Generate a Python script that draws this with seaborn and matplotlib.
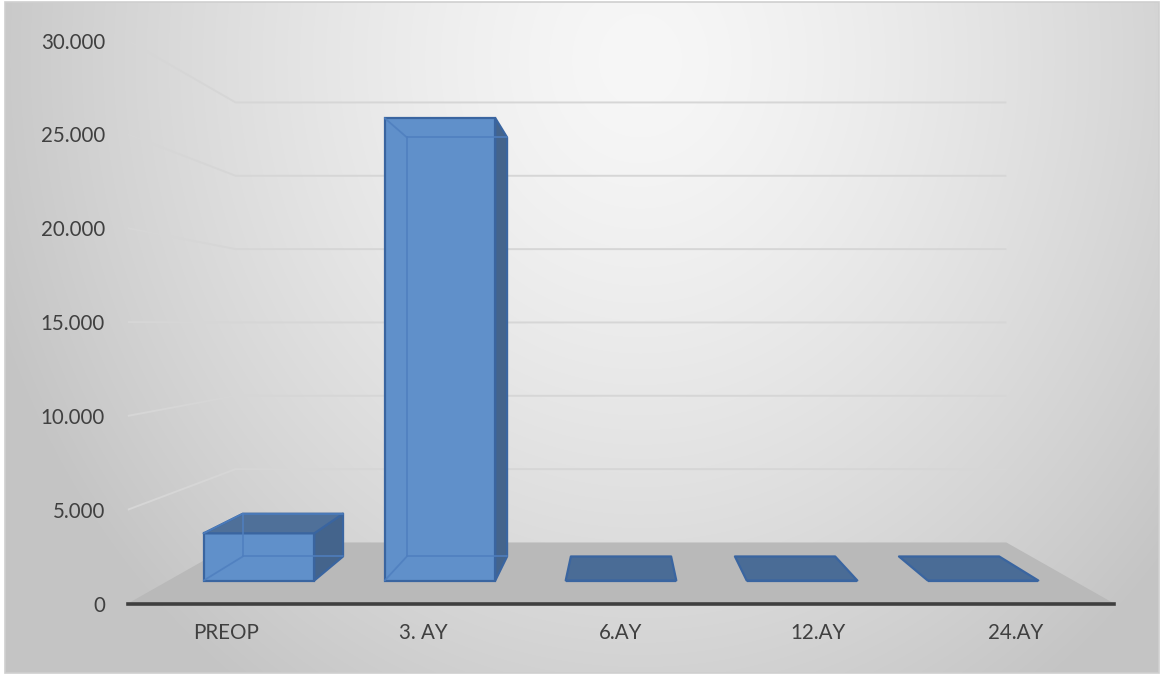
import numpy as np
import matplotlib
matplotlib.use("Agg")
import matplotlib.pyplot as plt
from matplotlib.patches import Polygon, Rectangle
import pandas as pd
import seaborn as sns

# ---- data -------------------------------------------------------------
categories = ["PREOP", "3. AY", "6.AY", "12.AY", "24.AY"]
values = [2740, 26850, 0, 0, 0]
y_ticks = [0, 5000, 10000, 15000, 20000, 25000, 30000]
y_tick_labels = ["0", "5.000", "10.000", "15.000", "20.000", "25.000", "30.000"]

# ---- figure / perspective geometry -----------------------------------
W_PX, H_PX, DPI = 1167, 679, 100
CAT_PX = 181.0       # pixels per category on the bar front plane
UNIT_PX = 0.017221   # pixels per value unit on the bar front plane
VX_PX = 621.0        # horizontal position of the vanishing point
BASE_PX = 580.5      # pixel row of value 0 on the bar front plane
EYE = 14895.0        # value level at eye height (horizon)
CENTER = 2.0         # category coordinate under the eye
R_FRONT, R_BAR_BACK, R_BACK = 1.0898, 0.9063, 0.8517   # depth scale factors
HALF = 0.3055        # half bar width (category units)

FRONT = "#6090ca"
SIDE = "#44648c"
TOP = "#4f7099"
FLAT = "#4a6c96"
EDGE = "#3a65a0"
HIDDEN = "#4f7fbf"
TEXT = "#404040"


def proj(x, y, r):
    """Project a point (category x, value y, depth factor r) onto the bar front plane."""
    return CENTER + (x - CENTER) * r, EYE + (y - EYE) * r


sns.set_theme(style="white")
plt.rcParams["font.family"] = ["Lato", "DejaVu Sans"]

fig = plt.figure(figsize=(W_PX / DPI, H_PX / DPI), dpi=DPI)
fig.patch.set_facecolor("white")

# ---- chart area background (soft radial gradient) ---------------------
bg = fig.add_axes([0, 0, 1, 1], zorder=0)
bg.set_xlim(0, W_PX)
bg.set_ylim(H_PX, 0)
bg.axis("off")
x0, x1, y0, y1 = 5, 1159, 2, 673
gx, gy = np.meshgrid(np.arange(x0, x1), np.arange(y0, y1))
d = np.sqrt(((gx - 640) / 620.0) ** 2 + ((gy - 60) / 700.0) ** 2)
shade = (247 - 44 * np.clip(d, 0, 1.1) ** 1.4) / 255.0
img = np.dstack([shade, shade, shade])
bg.imshow(img, extent=(x0, x1, y1, y0), aspect="auto", interpolation="bilinear")
bg.add_patch(Rectangle((x0, y0), x1 - x0, y1 - y0, fill=False,
                       edgecolor="#cfcfcf", linewidth=1.2))
bg.set_xlim(0, W_PX)
bg.set_ylim(H_PX, 0)

# ---- main axes mapped onto the bar front plane ------------------------
xlim = (proj(-0.5, 0, R_FRONT)[0], proj(len(categories) - 0.5, 0, R_FRONT)[0])
ylim = (proj(0, 0, R_FRONT)[1], (BASE_PX - 20) / UNIT_PX)
left_px = VX_PX + (xlim[0] - CENTER) * CAT_PX
right_px = VX_PX + (xlim[1] - CENTER) * CAT_PX
bottom_px = BASE_PX - ylim[0] * UNIT_PX
top_px = BASE_PX - ylim[1] * UNIT_PX
ax = fig.add_axes([left_px / W_PX, 1 - bottom_px / H_PX,
                   (right_px - left_px) / W_PX, (bottom_px - top_px) / H_PX],
                  zorder=1)
ax.set_facecolor("none")

# floor
n = len(categories)
floor = [proj(-0.5, 0, R_FRONT), proj(n - 0.5, 0, R_FRONT),
         proj(n - 0.5, 0, R_BACK), proj(-0.5, 0, R_BACK)]
ax.add_patch(Polygon(floor, closed=True, facecolor="#b9b9b9",
                     edgecolor="none", zorder=1, clip_on=False))

# gridlines on the side wall and back wall
for yv in y_ticks[1:]:
    a = proj(-0.5, yv, R_FRONT)
    b = proj(-0.5, yv, R_BACK)
    c = proj(n - 0.5, yv, R_BACK)
    ax.plot([a[0], b[0], c[0]], [a[1], b[1], c[1]], color="#d6d6d6",
            lw=1.4, zorder=1, clip_on=False, solid_capstyle="butt")

# bar front faces
df = pd.DataFrame({"period": categories, "value": values})
sns.barplot(data=df, x="period", y="value", order=categories, color=FRONT,
            saturation=1, width=2 * HALF, edgecolor=EDGE, linewidth=1.6,
            zorder=4, ax=ax)

# side, top and hidden edges of each bar
for i, v in enumerate(values):
    xl, xr = i - HALF, i + HALF
    if v > 0 and xr < CENTER:
        side = [proj(xr, 0, 1), proj(xr, v, 1), proj(xr, v, R_BAR_BACK), proj(xr, 0, R_BAR_BACK)]
        ax.add_patch(Polygon(side, closed=True, facecolor=SIDE, edgecolor=EDGE,
                             linewidth=1.6, zorder=4, joinstyle="round"))
    if v > 0 and xl > CENTER:
        side = [proj(xl, 0, 1), proj(xl, v, 1), proj(xl, v, R_BAR_BACK), proj(xl, 0, R_BAR_BACK)]
        ax.add_patch(Polygon(side, closed=True, facecolor=SIDE, edgecolor=EDGE,
                             linewidth=1.6, zorder=4, joinstyle="round"))
    if v < EYE:
        top = [proj(xl, v, 1), proj(xr, v, 1), proj(xr, v, R_BAR_BACK), proj(xl, v, R_BAR_BACK)]
        ax.add_patch(Polygon(top, closed=True, facecolor=TOP if v > 0 else FLAT,
                             edgecolor=EDGE, linewidth=1.6, zorder=4, joinstyle="round"))
    if v > 0:
        bl, tl = proj(xl, 0, R_BAR_BACK), proj(xl, v, R_BAR_BACK)
        br, tr = proj(xr, 0, R_BAR_BACK), proj(xr, v, R_BAR_BACK)
        fbl, ftl = proj(xl, 0, 1), proj(xl, v, 1)
        segs = [(bl, tl), (bl, br), (tl, tr), (fbl, bl), (ftl, tl)]
        for p, q in segs:
            ax.plot([p[0], q[0]], [p[1], q[1]], color=HIDDEN, lw=1.3,
                    alpha=0.85, zorder=5)

# axes, ticks and labels
ax.set_xlim(*xlim)
ax.set_ylim(*ylim)
ax.set_xticks([proj(i, 0, R_FRONT)[0] for i in range(n)], categories)
ax.set_yticks([proj(-0.5, t, R_FRONT)[1] for t in y_ticks], y_tick_labels)
ax.set_xlabel("")
ax.set_ylabel("")
ax.tick_params(axis="x", length=0, pad=14, labelsize=14.8, labelcolor=TEXT)
ax.tick_params(axis="y", length=0, pad=16.5, labelsize=14.8, labelcolor=TEXT)
for side_name in ["top", "right", "left"]:
    ax.spines[side_name].set_visible(False)
ax.spines["bottom"].set_color("#3f3f3f")
ax.spines["bottom"].set_linewidth(2.6)
ax.spines["bottom"].set_zorder(6)
ax.grid(False)

fig.savefig("out.png", dpi=DPI, facecolor=fig.get_facecolor())
